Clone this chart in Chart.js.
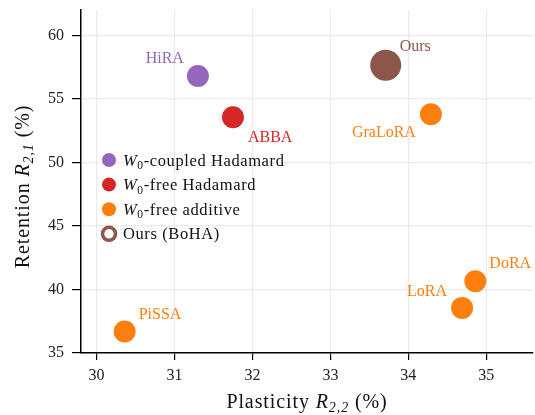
<!DOCTYPE html>
<html>
<head>
<meta charset="utf-8">
<script src="https://cdn.jsdelivr.net/npm/chart.js@4.4.1/dist/chart.umd.min.js"></script>
<style>
  html, body { margin: 0; padding: 0; background: #fff; }
  #chart { display: block; }
</style>
</head>
<body>
<canvas id="chart" width="535" height="415"></canvas>
<script>
// data
const methods = ['HiRA', 'ABBA', 'GraLoRA', 'DoRA', 'LoRA', 'PiSSA', 'Ours']
const plasticity = [31.30, 31.75, 34.29, 34.86, 34.69, 30.36, 33.71]
const retention = [56.8, 53.55, 53.8, 40.65, 38.55, 36.7, 57.65]
const groups = ['coupled', 'freeHad', 'additive', 'additive', 'additive', 'additive', 'ours']

const groupKeys = ['coupled', 'freeHad', 'additive', 'ours']
const groupLabels = ['W0-coupled Hadamard', 'W0-free Hadamard', 'W0-free additive', 'Ours (BoHA)']
const xTicks = [30, 31, 32, 33, 34, 35]
const yTicks = [35, 40, 45, 50, 55, 60]

// styling
const colors = { coupled: '#9467bd', freeHad: '#d62728', additive: '#ff7f0e', ours: '#8c564b' }
const radii = { coupled: 11, freeHad: 11, additive: 11, ours: 15.5 }
// text label offsets from the point centre (px), with alignment
const labelPos = {
  HiRA: [-14, -17, 'right'],
  ABBA: [15, 20, 'left'],
  GraLoRA: [-15, 19, 'right'],
  DoRA: [14, -17, 'left'],
  LoRA: [-15, -16, 'right'],
  PiSSA: [14, -17, 'left'],
  Ours: [14, -18, 'left']
}
const SERIF = '"Liberation Serif", "DejaVu Serif", serif'

const datasets = groupKeys.map(g => {
  const pts = []
  methods.forEach((m, i) => {
    if (groups[i] === g) pts.push({ x: plasticity[i], y: retention[i], name: m })
  })
  return {
    label: g,
    data: pts,
    backgroundColor: colors[g],
    borderColor: colors[g],
    borderWidth: 0,
    pointRadius: radii[g],
    pointHoverRadius: radii[g]
  }
})

// draw text made of segments: {t, it, sub}
function richWidth (ctx, segs, size) {
  let w = 0
  segs.forEach(s => {
    ctx.font = (s.it ? 'italic ' : '') + (s.sub ? size * 0.7 : size) + 'px ' + SERIF
    w += ctx.measureText(s.t).width
  })
  return w
}
function drawRich (ctx, segs, x, y, size) {
  segs.forEach(s => {
    ctx.font = (s.it ? 'italic ' : '') + (s.sub ? size * 0.7 : size) + 'px ' + SERIF
    ctx.fillText(s.t, x, s.sub ? y + size * 0.22 : y)
    x += ctx.measureText(s.t).width
  })
}

const annotations = {
  id: 'annotations',
  afterDatasetsDraw (chart) {
    const ctx = chart.ctx
    ctx.save()
    ctx.textBaseline = 'middle'
    ctx.font = '16px ' + SERIF
    chart.data.datasets.forEach((ds, di) => {
      const meta = chart.getDatasetMeta(di)
      ds.data.forEach((p, i) => {
        const el = meta.data[i]
        const off = labelPos[p.name]
        ctx.fillStyle = ds.backgroundColor
        ctx.textAlign = off[2]
        ctx.fillText(p.name, el.x + off[0], el.y + off[1])
      })
    })
    ctx.restore()
  },
  afterDraw (chart) {
    const ctx = chart.ctx
    const area = chart.chartArea
    ctx.save()
    ctx.fillStyle = '#000'
    ctx.textAlign = 'left'
    ctx.textBaseline = 'alphabetic'

    // legend
    const lx = 109
    let ly = 160
    ctx.letterSpacing = '0.6px'
    groupKeys.forEach((g, i) => {
      ctx.beginPath()
      if (g === 'ours') {
        ctx.arc(lx, ly, 6.5, 0, Math.PI * 2)
        ctx.fillStyle = '#fff'
        ctx.fill()
        ctx.lineWidth = 3.5
        ctx.strokeStyle = colors[g]
        ctx.stroke()
      } else {
        ctx.arc(lx, ly, 7, 0, Math.PI * 2)
        ctx.fillStyle = colors[g]
        ctx.fill()
      }
      ctx.fillStyle = '#111'
      let segs
      if (g === 'ours') segs = [{ t: groupLabels[i] }]
      else segs = [{ t: 'W', it: true }, { t: '0', sub: true }, { t: groupLabels[i].slice(2) }]
      drawRich(ctx, segs, 123, ly + 5.5, 16.5)
      ly += 24.6
    })

    // axis titles
    ctx.letterSpacing = '0.9px'
    const xt = [{ t: 'Plasticity ' }, { t: 'R', it: true }, { t: '2,2', it: true, sub: true }, { t: ' (%)' }]
    const wx = richWidth(ctx, xt, 20)
    drawRich(ctx, xt, (area.left + area.right) / 2 - wx / 2, 408, 20)

    const yt = [{ t: 'Retention ' }, { t: 'R', it: true }, { t: '2,1', it: true, sub: true }, { t: ' (%)' }]
    const wy = richWidth(ctx, yt, 20)
    ctx.translate(29, (area.top + area.bottom) / 2 + 5)
    ctx.rotate(-Math.PI / 2)
    drawRich(ctx, yt, -wy / 2, 0, 20)
    ctx.restore()
  }
}

const ctx = document.getElementById('chart')
// eslint-disable-next-line no-unused-vars
const myChart = new Chart(ctx, {
  type: 'scatter',
  data: { datasets },
  options: {
    responsive: false,
    animation: false,
    layout: { autoPadding: false, padding: { top: 10, right: 2, left: 0, bottom: 0 } },
    plugins: { legend: { display: false }, tooltip: { enabled: false } },
    scales: {
      x: {
        type: 'linear',
        min: 29.8,
        max: 35.6,
        afterFit: s => { s.height = 62; s.paddingLeft = 0; s.paddingRight = 0 },
        afterBuildTicks: s => { s.ticks = xTicks.map(v => ({ value: v })) },
        ticks: { color: '#222', padding: 6, font: { family: SERIF, size: 16 } },
        grid: { color: '#ebebeb', lineWidth: 1.2, tickColor: '#000', tickLength: 7, tickWidth: 1.2 },
        border: { color: '#000', width: 1.5 }
      },
      y: {
        type: 'linear',
        min: 35,
        max: 62,
        afterFit: s => { s.width = 81; s.paddingTop = 0; s.paddingBottom = 0 },
        afterBuildTicks: s => { s.ticks = yTicks.map(v => ({ value: v })) },
        ticks: { color: '#222', padding: 8, font: { family: SERIF, size: 16 } },
        grid: { color: '#ebebeb', lineWidth: 1.2, tickColor: '#000', tickLength: 9, tickWidth: 1.2 },
        border: { color: '#000', width: 1.5 }
      }
    }
  },
  plugins: [annotations]
})
</script>
</body>
</html>
